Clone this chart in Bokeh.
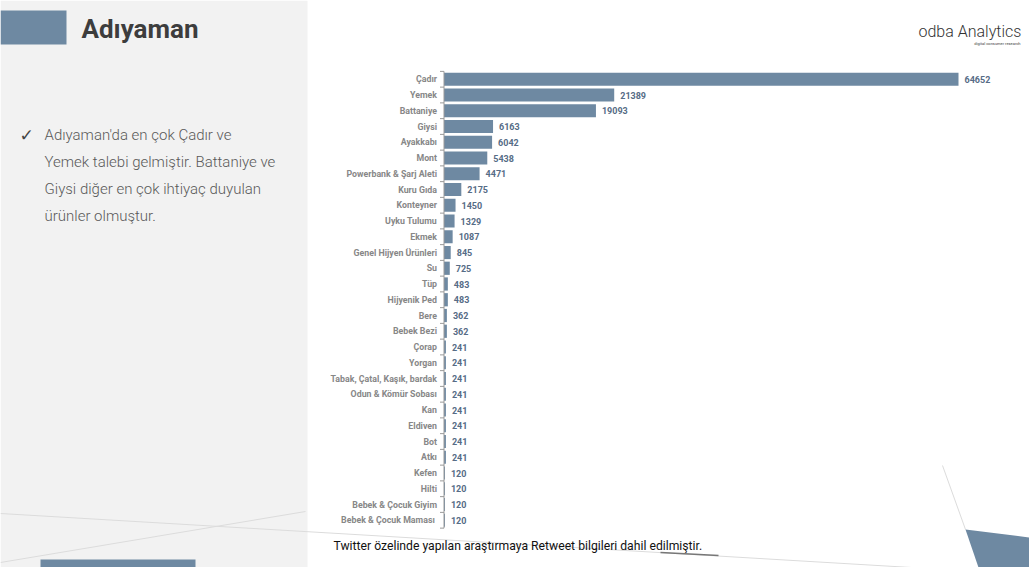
from bokeh.plotting import figure
from bokeh.models import Range1d, FactorRange, ColumnDataSource, LinearScale
from bokeh.core.properties import value
from bokeh.embed import file_html
from bokeh.resources import INLINE

# ---------------- data ----------------
categories = ["Çadır", "Yemek", "Battaniye", "Giysi", "Ayakkabı", "Mont",
              "Powerbank & Şarj Aleti", "Kuru Gıda", "Konteyner", "Uyku Tulumu",
              "Ekmek", "Genel Hijyen Ürünleri", "Su", "Tüp", "Hijyenik Ped",
              "Bere", "Bebek Bezi", "Çorap", "Yorgan", "Tabak, Çatal, Kaşık, bardak",
              "Odun & Kömür Sobası", "Kan", "Eldiven", "Bot", "Atkı", "Kefen",
              "Hilti", "Bebek & Çocuk Giyim", "Bebek  & Çocuk Maması"]
counts = [64652, 21389, 19093, 6163, 6042, 5438, 4471, 2175, 1450, 1329,
          1087, 845, 725, 483, 483, 362, 362, 241, 241, 241,
          241, 241, 241, 241, 241, 120, 120, 120, 120]

title = "Adıyaman"
bullet_lines = ["Adıyaman'da en çok Çadır ve",
                "Yemek talebi gelmiştir. Battaniye ve",
                "Giysi diğer en çok ihtiyaç duyulan",
                "ürünler olmuştur."]
footer = "Twitter özelinde yapılan araştırmaya Retweet bilgileri dahil edilmiştir."
logo = "odba Analytics"
logo_sub = "digital consumer research"

# ---------------- layout ----------------
BAR = "#6e89a2"
W, H = 1029, 567
zero_px, max_px = 443.5, 958.0
k = (max_px - zero_px) / max(counts)
x_start = -zero_px / k
x_end = (W - zero_px) / k

pad_bottom, pad_top = 2, 4
factors = ([f"_b{i}" for i in range(pad_bottom)] + list(reversed(categories))
           + [f"_t{i}" for i in range(pad_top)])
NF = len(factors)
RP = 0.5          # absolute range padding (applied on each side)
syn_lo, syn_hi = -RP, NF + RP


def py(v):
    """page pixel y -> synthetic categorical coordinate"""
    if isinstance(v, (list, tuple)):
        return [py(t) for t in v]
    return syn_hi - v * (syn_hi - syn_lo) / H


p = figure(width=W, height=H, x_range=Range1d(x_start, x_end),
           y_range=FactorRange(factors=factors, range_padding=RP,
                               range_padding_units="absolute", factor_padding=0),
           x_axis_location=None, y_axis_location=None, toolbar_location=None,
           output_backend="svg", min_border=0, outline_line_color=None,
           background_fill_color="white", border_fill_color="white")
p.grid.visible = False
p.extra_x_ranges = {"px": Range1d(0, W)}
p.extra_x_scales = {"px": LinearScale()}
PX = dict(x_range_name="px")

# page decorations
p.quad(left=[0], right=[307], bottom=py([567]), top=py([0]), fill_color="#f2f2f2",
       line_color=None, **PX)
p.segment(x0=[0, 0, 942], y0=py([513, 562, 465]), x1=[1029, 305, 965], y1=py([574, 511, 529]),
          line_color="#dcdcdc", line_width=1, **PX)
p.segment(x0=[660], y0=py([552]), x1=[718], y1=py([555]), line_color="#777777",
          line_width=1.5, **PX)
p.patch(x=[965, 1029, 1029, 978], y=py([529, 537, 567, 567]), fill_color=BAR,
        line_color=None, **PX)
p.quad(left=[40], right=[195], bottom=py([567]), top=py([559]), fill_color=BAR,
       line_color=None, **PX)
p.quad(left=[0], right=[66], bottom=py([44]), top=py([10]), fill_color=BAR,
       line_color=None, **PX)

p.text(x=[81], y=py([28]), text=[title], text_font=value("Roboto"), text_font_style="bold",
       text_font_size="26px", text_color="#3d3d3d", text_baseline="middle", **PX)
p.text(x=[19], y=py([134]), text=["✓"], text_font=value("DejaVu Sans"),
       text_font_size="17px", text_color="#444444", text_baseline="middle", **PX)
p.text(x=[44] * len(bullet_lines), y=py([134 + 27.3 * i for i in range(len(bullet_lines))]),
       text=bullet_lines, text_font=value("Roboto Light"), text_font_size="15px",
       text_color="#595959", text_baseline="middle", **PX)
p.text(x=[918], y=py([31]), text=[logo], text_font=value("Roboto Light"), text_font_size="16px",
       text_color="#333333", text_baseline="middle", **PX)
p.text(x=[1020], y=py([43]), text=[logo_sub], text_font=value("Roboto"), text_font_size="4px",
       text_color="#444444", text_baseline="middle", text_align="right", **PX)
p.text(x=[333], y=py([545]), text=[footer], text_font=value("Roboto"), text_font_size="12.2px",
       text_color="#111111", text_baseline="middle", **PX)

# chart
src = ColumnDataSource(dict(cat=categories, val=counts, lbl=[str(c) for c in counts]))
p.hbar(y="cat", left=0, right="val", height=0.84, source=src, fill_color=BAR, line_color=None)

n = len(categories)
tick_len = 4 / k
p.segment(x0=[0], x1=[0], y0=[pad_bottom], y1=[pad_bottom + n], line_color="#9a9a9a", line_width=1)
bounds = list(range(pad_bottom, pad_bottom + n + 1))
p.segment(x0=[-tick_len] * len(bounds), x1=[0] * len(bounds), y0=bounds, y1=bounds,
          line_color="#9a9a9a", line_width=1)

p.text(x=0, y="cat", text="cat", source=src, x_offset=-7, text_align="right",
       text_baseline="middle", text_font=value("Roboto"), text_font_style="bold",
       text_font_size="8.8px", text_color="#878787")
p.text(x="val", y="cat", text="lbl", source=src, x_offset=6, text_align="left",
       text_baseline="middle", text_font=value("Roboto"), text_font_style="bold",
       text_font_size="9px", text_color="#566c86")

open("out.html", "w").write(file_html(p, INLINE))
